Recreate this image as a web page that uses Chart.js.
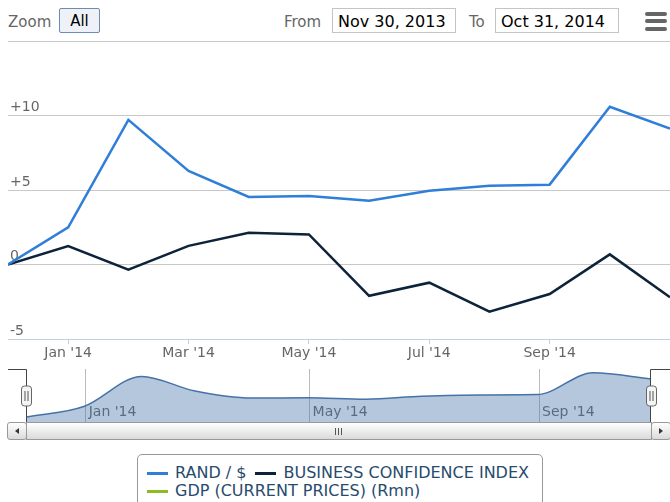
<!DOCTYPE html>
<html>
<head>
<meta charset="utf-8">
<script src="https://cdn.jsdelivr.net/npm/chart.js@4.4.1/dist/chart.umd.min.js"></script>
<style>
body{margin:0;width:670px;height:502px;overflow:hidden;background:#fff;font-family:'DejaVu Sans',sans-serif;position:relative}
canvas{position:absolute;left:0}
#main{top:0}
#nav{top:360px}
.lbl{position:absolute;top:13px;font-size:15px;color:#666}
.btn{position:absolute;left:59px;top:8px;width:41px;height:25px;box-sizing:border-box;border:1px solid #6a8cb5;border-radius:2px;background:#eef2f8;font-size:15px;line-height:25px;text-align:center;color:#000}
.inp{position:absolute;top:8px;height:25px;box-sizing:border-box;border:1px solid #c4c4c4;background:#fff;font-size:16px;line-height:25px;padding-left:5px;color:#000;overflow:hidden}
.bar{position:absolute;left:645px;width:22px;height:4px;border-radius:2px;background:#666}
.sb{position:absolute;top:422px;height:18px;box-sizing:border-box;border:1px solid #999;background:linear-gradient(#fff,#dadada)}
.grip{position:absolute;top:5px;width:1px;height:7px;background:#555}
#legend{position:absolute;left:137px;top:454px;width:406px;height:70px;box-sizing:border-box;border:1px solid #999;border-radius:5px;padding:9px 0 0 9px;font-size:16px;color:#274b6d;display:flex;flex-wrap:wrap;align-content:flex-start}
.item{display:flex;align-items:center;height:18px;line-height:18px;margin-right:9px;white-space:nowrap}
.sym{display:inline-block;width:21px;height:3px;margin-right:7px}
</style>
</head>
<body>
<div class="lbl" style="left:8px">Zoom</div>
<div class="btn">All</div>
<div class="lbl" style="left:284px">From</div>
<div class="inp" style="left:332px;width:124px">Nov 30, 2013</div>
<div class="lbl" style="left:469px">To</div>
<div class="inp" style="left:495px;width:124px">Oct 31, 2014</div>
<div class="bar" style="top:12px"></div>
<div class="bar" style="top:19px"></div>
<div class="bar" style="top:27px"></div>

<canvas id="main" width="670" height="363"></canvas>
<canvas id="nav" width="670" height="62"></canvas>

<div class="sb" style="left:7px;width:20px;border-radius:3px"><div style="position:absolute;left:7px;top:5px;width:0;height:0;border-top:3px solid transparent;border-bottom:3px solid transparent;border-right:4px solid #333"></div></div>
<div class="sb" style="left:26px;width:626px">
  <div class="grip" style="left:308px"></div><div class="grip" style="left:311px"></div><div class="grip" style="left:314px"></div>
</div>
<div class="sb" style="left:651px;width:20px;border-radius:3px"><div style="position:absolute;left:7px;top:5px;width:0;height:0;border-top:3px solid transparent;border-bottom:3px solid transparent;border-left:4px solid #333"></div></div>

<div id="legend"></div>

<script>
// month-end dates of the points
const months = ['2013-11-30','2013-12-31','2014-01-31','2014-02-28','2014-03-31','2014-04-30',
                '2014-05-31','2014-06-30','2014-07-31','2014-08-31','2014-09-30','2014-10-31'];
const randDollar = [0, 2.5, 9.71, 6.28, 4.53, 4.6, 4.28, 4.95, 5.29, 5.36, 10.59, 9.12];
const businessConf = [0, 1.24, -0.34, 1.25, 2.13, 2.02, -2.1, -1.22, -3.17, -1.98, 0.68, -2.2];
const gdp = [];

const seriesNames = ['RAND / $', 'BUSINESS CONFIDENCE INDEX', 'GDP (CURRENT PRICES) (Rmn)'];
const seriesColors = ['#2f7ed8', '#0d233a', '#8bbc21'];

// main axis ticks (ordinal, point index)
const xTickIdx = [1, 3, 5, 7, 9];
const xTickLabels = ["Jan '14", "Mar '14", "May '14", "Jul '14", "Sep '14"];
const yTicks = [-5, 0, 5, 10, 15];

// navigator axis ticks (real dates)
const navTickDates = ['2014-01-01', '2014-05-01', '2014-09-01'];
const navTickLabels = ["Jan '14", "May '14", "Sep '14"];

Chart.defaults.font.family = "'DejaVu Sans', sans-serif";
Chart.defaults.color = '#666';

function dayNum(s) {
    var p = s.split('-');
    return (Date.UTC(+p[0], p[1]-1, +p[2]) - Date.UTC(2013, 10, 30)) / 86400000;
}

var series = [randDollar, businessConf, gdp];
var mainChart = new Chart('main', {
    type: 'line',
    data: {
        datasets: series.map((s, i) => ({
            label: seriesNames[i],
            data: s.map((v, j) => ({x: j, y: v})),
            borderColor: seriesColors[i],
            borderWidth: 2.5,
            pointRadius: 0,
            tension: 0,
            fill: false
        }))
    },
    options: {
        responsive: false,
        animation: false,
        layout: {padding: {left: 8, right: 0, top: 41, bottom: 0}},
        plugins: {legend: {display: false}, tooltip: {enabled: false}},
        scales: {
            x: {
                type: 'linear', min: 0, max: months.length - 1,
                afterBuildTicks: s => { s.ticks = xTickIdx.map(v => ({value: v})); },
                afterFit: s => { s.height = 24; },
                grid: {drawOnChartArea: false, drawTicks: true, tickLength: 5, tickColor: '#c0d0e0'},
                border: {color: '#c0d0e0'},
                ticks: {padding: 1, font: {size: 14}, color: '#666', maxRotation: 0,
                        callback: v => xTickLabels[xTickIdx.indexOf(v)]}
            },
            y: {
                min: -5, max: 15,
                afterBuildTicks: s => { s.ticks = yTicks.map(v => ({value: v})); },
                afterFit: s => { s.width = 0; },
                border: {display: false},
                grid: {drawTicks: false, color: c => c.tick.value === -5 ? 'rgba(0,0,0,0)' : '#c8c8c8'},
                ticks: {mirror: true, padding: 2, labelOffset: -8, font: {size: 14}, color: '#666',
                        callback: v => v === 15 ? '' : (v > 0 ? '+' + v : String(v))}
            }
        }
    }
});

// navigator outline + handles
const navDecor = {
    id: 'navDecor',
    afterDraw(chart) {
        const ctx = chart.ctx, a = chart.chartArea;
        ctx.save();
        ctx.strokeStyle = '#444';
        ctx.lineWidth = 1;
        ctx.beginPath();
        ctx.moveTo(8, a.top + 0.5); ctx.lineTo(a.left + 0.5, a.top + 0.5); ctx.lineTo(a.left + 0.5, a.bottom);
        ctx.moveTo(a.right - 0.5, a.bottom); ctx.lineTo(a.right - 0.5, a.top + 0.5); ctx.lineTo(chart.width, a.top + 0.5);
        ctx.stroke();
        const cy = Math.round((a.top + a.bottom) / 2);
        [a.left, a.right].forEach(x => {
            x = Math.round(x) + 0.5;
            ctx.beginPath();
            ctx.roundRect(x - 5, cy - 10, 10, 20, 3);
            ctx.fillStyle = '#f4f4f4';
            ctx.fill();
            ctx.strokeStyle = '#666';
            ctx.stroke();
            ctx.beginPath();
            ctx.moveTo(x - 1.5, cy - 5); ctx.lineTo(x - 1.5, cy + 5);
            ctx.moveTo(x + 1.5, cy - 5); ctx.lineTo(x + 1.5, cy + 5);
            ctx.strokeStyle = '#555';
            ctx.stroke();
        });
        ctx.restore();
    }
};

var navTicks = navTickDates.map(dayNum);
var navChart = new Chart('nav', {
    type: 'line',
    data: {
        datasets: [{
            data: randDollar.map((v, j) => ({x: dayNum(months[j]), y: v})),
            borderColor: '#4572a7',
            borderWidth: 1.5,
            backgroundColor: 'rgba(69,114,167,0.4)',
            fill: 'start',
            pointRadius: 0,
            cubicInterpolationMode: 'monotone'
        }]
    },
    options: {
        responsive: false,
        animation: false,
        layout: {padding: {left: 26, right: 19, top: 9, bottom: 0}},
        plugins: {legend: {display: false}, tooltip: {enabled: false}},
        scales: {
            x: {
                type: 'linear', min: 0, max: dayNum(months[months.length - 1]),
                afterBuildTicks: s => { s.ticks = navTicks.map(v => ({value: v})); },
                afterFit: s => { s.height = 0; },
                border: {display: false},
                grid: {drawTicks: false, color: '#bbb'},
                ticks: {mirror: true, align: 'start', labelOffset: 3, padding: 1, font: {size: 14}, color: '#666',
                        maxRotation: 0, callback: v => navTickLabels[navTicks.indexOf(v)]}
            },
            y: {display: false, min: -1.2, max: 11.5}
        }
    },
    plugins: [navDecor]
});

// legend
var legend = document.getElementById('legend');
seriesNames.forEach((n, i) => {
    var it = document.createElement('span');
    it.className = 'item';
    it.innerHTML = '<span class="sym" style="background:' + seriesColors[i] + '"></span>' + n;
    legend.appendChild(it);
});
</script>
</body>
</html>
